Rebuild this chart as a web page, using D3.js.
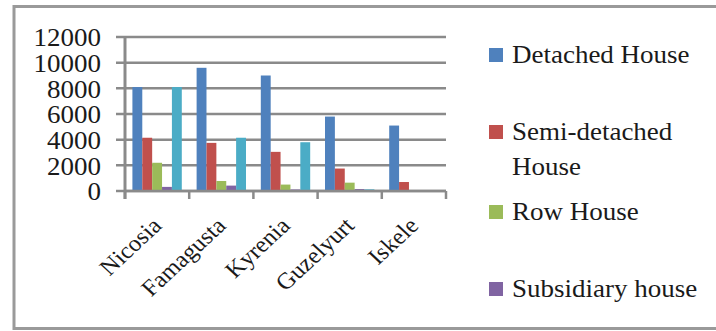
<!DOCTYPE html>
<html><head><meta charset="utf-8">
<script src="https://cdn.jsdelivr.net/npm/d3@7/dist/d3.min.js"></script>
</head><body style="margin:0"><svg id="c" width="716" height="331" style="display:block"></svg>
<script>
const categories = ["Nicosia", "Famagusta", "Kyrenia", "Guzelyurt", "Iskele"];
const seriesNames = ["Detached House", "Semi-detached House", "Row House", "Subsidiary house", "Apartment"];
const detached = [8100, 9600, 9000, 5800, 5100];
const semiDetached = [4150, 3750, 3050, 1750, 700];
const rowHouse = [2200, 780, 500, 650, 20];
const subsidiary = [320, 420, 120, 150, 10];
const apartment = [8100, 4150, 3800, 130, 10];
const yTicks = [0, 2000, 4000, 6000, 8000, 10000, 12000];
const colors = ["#4F81BD", "#C0504D", "#9BBB59", "#8064A2", "#4BACC6"];
const legendShown = [
  {name: ["Detached House"], color: "#4F81BD"},
  {name: ["Semi-detached", "House"], color: "#C0504D"},
  {name: ["Row House"], color: "#9BBB59"},
  {name: ["Subsidiary house"], color: "#8064A2"}
];

const values = [detached, semiDetached, rowHouse, subsidiary, apartment];
const svg = d3.select("#c");
const SX = 1.08;

svg.append("rect").attr("x", 14).attr("y", 6.5).attr("width", 720).attr("height", 322)
  .attr("fill", "none").attr("stroke", "#9a9a9a").attr("stroke-width", 3);

const plot = {left: 125, right: 446, top: 37, bottom: 191};
const y = d3.scaleLinear().domain([0, 12000]).range([plot.bottom, plot.top]);
const x0 = d3.scaleBand().domain(categories).range([plot.left, plot.right]).padding(0);
const x1 = d3.scaleBand().domain(d3.range(seriesNames.length)).range([0, x0.bandwidth()])
  .paddingInner(0).paddingOuter(0.75);

const grey = "#8a8a8a";
svg.append("g").selectAll("line").data(yTicks).join("line")
  .attr("x1", plot.left - 9).attr("x2", plot.right)
  .attr("y1", d => y(d)).attr("y2", d => y(d))
  .attr("stroke", grey).attr("stroke-width", 2.5);

const g = svg.append("g");
categories.forEach((c, ci) => {
  values.forEach((arr, si) => {
    g.append("rect")
      .attr("x", x0(c) + x1(si))
      .attr("width", x1.bandwidth())
      .attr("y", y(arr[ci]))
      .attr("height", plot.bottom - y(arr[ci]))
      .attr("fill", colors[si]);
  });
});

svg.append("line").attr("x1", plot.left).attr("x2", plot.left)
  .attr("y1", plot.top - 1).attr("y2", plot.bottom + 8)
  .attr("stroke", grey).attr("stroke-width", 3);
svg.append("line").attr("x1", plot.left).attr("x2", plot.right)
  .attr("y1", plot.bottom).attr("y2", plot.bottom)
  .attr("stroke", grey).attr("stroke-width", 2.5);
const bounds = categories.map(c => x0(c)).concat([plot.right]);
svg.append("g").selectAll("line").data(bounds).join("line")
  .attr("x1", d => d).attr("x2", d => d)
  .attr("y1", plot.bottom).attr("y2", plot.bottom + 8)
  .attr("stroke", grey).attr("stroke-width", 2.5);

function styleText(sel, size) {
  return sel.style("font-family", d => '"Liberation Serif"')
    .attr("font-size", size).attr("fill", "#1a1a1a");
}

styleText(svg.append("g").selectAll("text").data(yTicks).join("text"), 25)
  .attr("transform", d => `translate(101,${y(d)}) scale(${SX},1)`)
  .attr("dy", "0.37em").attr("text-anchor", "end")
  .text(d => d);

styleText(svg.append("g").selectAll("text").data(categories).join("text"), 23)
  .attr("transform", c => `translate(${x0(c) + x0.bandwidth() / 2 + 6},${plot.bottom + 36}) scale(${SX},1) rotate(-45)`)
  .attr("text-anchor", "end")
  .text(c => c);

const legY = [63, 140, 220, 297];
const lg = svg.append("g");
const legendLines = [];
legendShown.forEach((d, i) => {
  lg.append("rect").attr("x", 489).attr("y", legY[i] - 15).attr("width", 14).attr("height", 14).attr("fill", d.color);
  d.name.forEach((t, j) => legendLines.push({t, yy: legY[i] + j * 35}));
});
styleText(lg.selectAll("text").data(legendLines).join("text"), 25)
  .attr("transform", d => `translate(512,${d.yy}) scale(${SX},1)`)
  .text(d => d.t);
</script></body></html>
